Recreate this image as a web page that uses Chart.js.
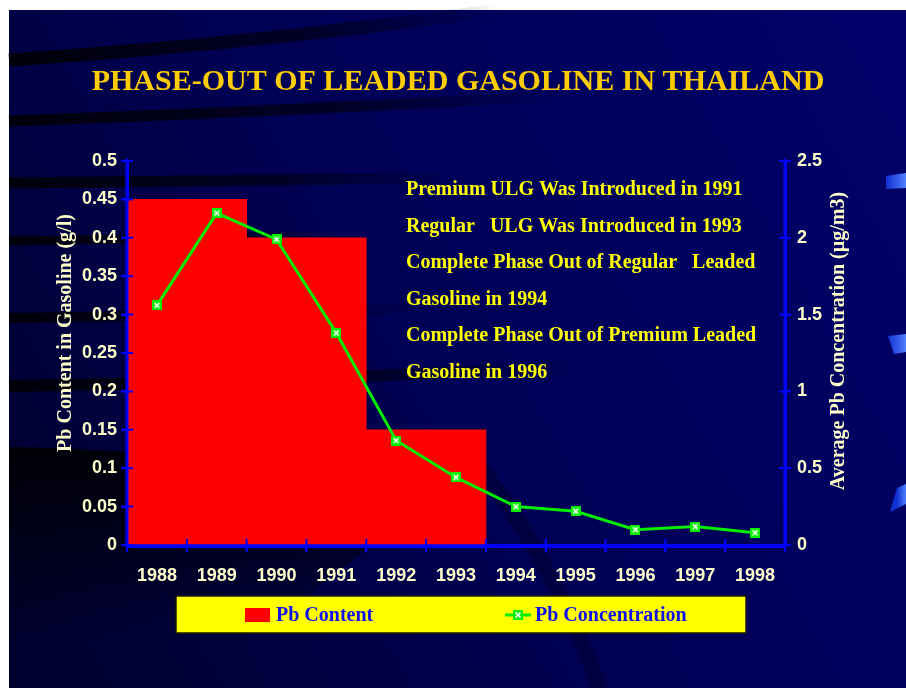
<!DOCTYPE html>
<html>
<head>
<meta charset="utf-8">
<script src="https://cdn.jsdelivr.net/npm/chart.js@4.4.1/dist/chart.umd.min.js"></script>
<style>
  html, body { margin: 0; padding: 0; background: #fff; }
  #wrap { width: 906px; height: 688px; }
</style>
</head>
<body>
<div id="wrap"><canvas id="chart" width="906" height="688"></canvas></div>
<script>
// Data
const years = ['1988', '1989', '1990', '1991', '1992', '1993', '1994', '1995', '1996', '1997', '1998'];
const pbContent = [0.45, 0.45, 0.40, 0.40, 0.15, 0.15, null, null, null, null, null];       // g/l
const pbConcentration = [1.56, 2.16, 1.99, 1.38, 0.68, 0.44, 0.25, 0.22, 0.10, 0.12, 0.08]; // µg/m3
const notes = [
  'Premium ULG Was Introduced in 1991',
  'Regular   ULG Was Introduced in 1993',
  'Complete Phase Out of Regular   Leaded',
  'Gasoline in 1994',
  'Complete Phase Out of Premium Leaded',
  'Gasoline in 1996'
];
const leftTitle = 'Pb Content in Gasoline (g/l)';
const rightTitle = 'Average Pb Concentration (µg/m3)';

const SERIF = '"Liberation Serif", "Times New Roman", serif';
const SANS = '"Liberation Sans", Arial, sans-serif';
const AXIS_BLUE = '#0000ff';
const CREAM = '#ffffcc';

// green square with white x, used for the points
function makeMarker(size) {
  const c = document.createElement('canvas');
  c.width = size; c.height = size;
  const g = c.getContext('2d');
  g.fillStyle = '#00ee00';
  g.fillRect(0, 0, size, size);
  g.strokeStyle = '#ffffff';
  g.lineWidth = 1.7;
  g.beginPath();
  g.moveTo(2.5, 2.5); g.lineTo(size - 2.5, size - 2.5);
  g.moveTo(size - 2.5, 2.5); g.lineTo(2.5, size - 2.5);
  g.stroke();
  return c;
}
const marker = makeMarker(10);

// slide background: navy gradient + dark swooshes
const slideBackground = {
  id: 'slideBackground',
  beforeDraw(chart) {
    const ctx = chart.ctx;
    ctx.save();
    ctx.fillStyle = '#ffffff';
    ctx.fillRect(0, 0, 906, 688);
    const g = ctx.createLinearGradient(9, 600, 906, 100);
    g.addColorStop(0, '#00002e');
    g.addColorStop(0.45, '#000054');
    g.addColorStop(1, '#000068');
    ctx.fillStyle = g;
    ctx.fillRect(9, 10, 897, 678);

    const streaks = [
      [9, 60, 250, 44, 500, 10, 13, 500],
      [9, 121, 260, 112, 560, 96, 11, 560],
      [9, 183, 220, 181, 440, 178, 11, 460],
      [9, 241, 180, 239, 340, 236, 9, 340],
      [9, 318, 220, 315, 420, 308, 10, 420],
      [9, 386, 280, 382, 580, 366, 12, 580]
    ];
    streaks.forEach(([x0, y0, cx, cy, x1, y1, w, fade]) => {
      const sg = ctx.createLinearGradient(x0, 0, fade, 0);
      sg.addColorStop(0, 'rgba(0,0,8,0.95)');
      sg.addColorStop(0.6, 'rgba(0,0,8,0.6)');
      sg.addColorStop(1, 'rgba(0,0,8,0)');
      ctx.strokeStyle = sg;
      ctx.lineWidth = w;
      ctx.beginPath();
      ctx.moveTo(x0, y0);
      ctx.quadraticCurveTo(cx, cy, x1, y1);
      ctx.stroke();
    });

    // darker lower-left swoosh, fading downwards
    const lg = ctx.createLinearGradient(0, 447, 0, 640);
    lg.addColorStop(0, 'rgba(0,0,4,0.95)');
    lg.addColorStop(0.45, 'rgba(0,0,6,0.6)');
    lg.addColorStop(1, 'rgba(0,0,10,0)');
    ctx.fillStyle = lg;
    ctx.beginPath();
    ctx.moveTo(9, 447);
    ctx.quadraticCurveTo(220, 449, 430, 500);
    ctx.lineTo(250, 640);
    ctx.lineTo(9, 640);
    ctx.closePath();
    ctx.fill();

    // faint diagonal band lower middle
    ctx.strokeStyle = 'rgba(0,0,20,0.3)';
    ctx.lineWidth = 16;
    ctx.beginPath();
    ctx.moveTo(470, 455);
    ctx.quadraticCurveTo(545, 545, 600, 688);
    ctx.stroke();

    // light blue slashes at the right edge
    const bars = [
      [[886, 176], [906, 173], [906, 188], [886, 189]],
      [[888, 336], [906, 334], [906, 352], [894, 354]],
      [[897, 488], [906, 484], [906, 504], [890, 512]]
    ];
    bars.forEach(pts => {
      const bg = ctx.createLinearGradient(pts[0][0], 0, 906, 0);
      bg.addColorStop(0, '#1030d0');
      bg.addColorStop(1, '#5080ff');
      ctx.fillStyle = bg;
      ctx.beginPath();
      ctx.moveTo(pts[0][0], pts[0][1]);
      for (let i = 1; i < pts.length; i++) ctx.lineTo(pts[i][0], pts[i][1]);
      ctx.closePath();
      ctx.fill();
    });
    ctx.restore();
  }
};

// axis lines with tick marks crossing them, drawn over the bars
const axisCross = {
  id: 'axisCross',
  afterDatasetsDraw(chart) {
    const ctx = chart.ctx;
    const { x, y, y1 } = chart.scales;
    ctx.save();
    ctx.strokeStyle = AXIS_BLUE;
    ctx.lineWidth = 3;
    ctx.beginPath();
    ctx.moveTo(x.left, y.bottom + 1.5); ctx.lineTo(x.right, y.bottom + 1.5);
    ctx.moveTo(y.right, y.top - 2); ctx.lineTo(y.right, y.bottom + 3);
    ctx.moveTo(y1.left, y1.top - 2); ctx.lineTo(y1.left, y1.bottom + 3);
    ctx.stroke();

    ctx.lineWidth = 2;
    ctx.beginPath();
    y.ticks.forEach((t, i) => {
      const p = y.getPixelForTick(i);
      ctx.moveTo(y.right - 6, p); ctx.lineTo(y.right + 6, p);
    });
    y1.ticks.forEach((t, i) => {
      const p = y1.getPixelForTick(i);
      ctx.moveTo(y1.left - 6, p); ctx.lineTo(y1.left + 6, p);
    });
    const step = x.getPixelForTick(1) - x.getPixelForTick(0);
    for (let i = 0; i <= years.length; i++) {
      const p = x.getPixelForTick(0) - step / 2 + i * step;
      ctx.moveTo(p, y.bottom - 6); ctx.lineTo(p, y.bottom + 7);
    }
    ctx.stroke();
    ctx.restore();
  }
};

// axis titles (both read bottom-to-top), notes and the yellow legend box
const slideText = {
  id: 'slideText',
  afterDraw(chart) {
    const ctx = chart.ctx;
    ctx.save();

    ctx.fillStyle = CREAM;
    ctx.font = 'bold 20px ' + SERIF;
    ctx.textAlign = 'center';
    ctx.textBaseline = 'middle';
    [[leftTitle, 66, 333], [rightTitle, 839, 341]].forEach(([text, tx, ty]) => {
      ctx.save();
      ctx.translate(tx, ty);
      ctx.rotate(-Math.PI / 2);
      ctx.fillText(text, 0, 0);
      ctx.restore();
    });

    ctx.fillStyle = '#ffff00';
    ctx.font = 'bold 20px ' + SERIF;
    ctx.textBaseline = 'alphabetic';
    ctx.textAlign = 'left';
    notes.forEach((line, i) => ctx.fillText(line, 406, 195 + i * 36.6));

    // legend
    ctx.fillStyle = '#ffff00';
    ctx.fillRect(176, 596, 570, 37);
    ctx.strokeStyle = '#1a1a00';
    ctx.lineWidth = 1.5;
    ctx.strokeRect(176, 596, 570, 37);

    const ds = chart.data.datasets;
    const bar = ds.find(d => d.type === 'bar');
    const line = ds.find(d => d.type === 'line');
    ctx.font = 'bold 20px ' + SERIF;
    ctx.textBaseline = 'middle';

    ctx.fillStyle = bar.backgroundColor;
    ctx.fillRect(245, 608, 25, 14);
    ctx.fillStyle = '#1010ee';
    ctx.fillText(bar.label, 276, 616);

    ctx.strokeStyle = line.borderColor;
    ctx.lineWidth = 3;
    ctx.beginPath();
    ctx.moveTo(505, 615); ctx.lineTo(531, 615);
    ctx.stroke();
    ctx.drawImage(marker, 518 - 5, 615 - 5);
    ctx.fillStyle = '#1010ee';
    ctx.fillText(line.label, 535, 616);
    ctx.restore();
  }
};

new Chart(document.getElementById('chart'), {
  type: 'bar',
  data: {
    labels: years,
    datasets: [
      {
        type: 'line',
        label: 'Pb Concentration',
        data: pbConcentration,
        yAxisID: 'y1',
        borderColor: '#00ee00',
        borderWidth: 3,
        pointStyle: marker,
        pointRadius: 5,
        tension: 0,
        order: 0
      },
      {
        type: 'bar',
        label: 'Pb Content',
        data: pbContent,
        yAxisID: 'y',
        backgroundColor: '#ff0000',
        borderWidth: 0,
        barPercentage: 1,
        categoryPercentage: 1,
        order: 1
      }
    ]
  },
  options: {
    responsive: false,
    animation: false,
    layout: { padding: { left: 10, right: 0, top: 0, bottom: 93 } },
    plugins: {
      legend: { display: false },
      tooltip: { enabled: false },
      title: {
        display: true,
        text: 'PHASE-OUT OF LEADED GASOLINE IN THAILAND',
        color: '#ffcc00',
        font: { family: SERIF, size: 30, weight: 'bold' },
        padding: { top: 64, bottom: 61 }
      }
    },
    scales: {
      x: {
        grid: { display: true, drawOnChartArea: false, tickLength: 6, color: AXIS_BLUE, lineWidth: 2 },
        border: { color: AXIS_BLUE, width: 3 },
        ticks: { color: CREAM, padding: 14, maxRotation: 0, font: { family: SANS, size: 18, weight: 'bold' } },
        afterFit: s => { s.height = 50; }
      },
      y: {
        position: 'left',
        min: 0, max: 0.5,
        grid: { display: true, drawOnChartArea: false, tickLength: 6, color: AXIS_BLUE, lineWidth: 2 },
        border: { color: AXIS_BLUE, width: 3 },
        ticks: {
          stepSize: 0.05, color: CREAM, padding: 4,
          font: { family: SANS, size: 18, weight: 'bold' },
          callback: v => String(+v.toFixed(2))
        },
        afterFit: s => { s.width = 117; }
      },
      y1: {
        position: 'right',
        min: 0, max: 2.5,
        grid: { display: true, drawOnChartArea: false, tickLength: 6, color: AXIS_BLUE, lineWidth: 2 },
        border: { color: AXIS_BLUE, width: 3 },
        ticks: {
          stepSize: 0.5, color: CREAM, padding: 6,
          font: { family: SANS, size: 18, weight: 'bold' },
          callback: v => String(+v.toFixed(1))
        },
        afterFit: s => { s.width = 121; }
      }
    }
  },
  plugins: [slideBackground, axisCross, slideText]
});
</script>
</body>
</html>
